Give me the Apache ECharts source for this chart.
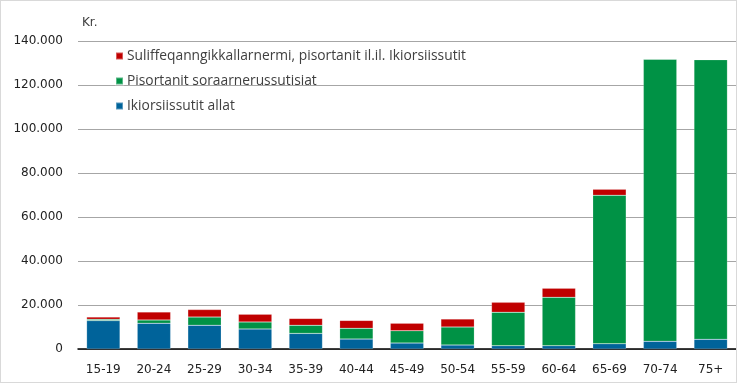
<!DOCTYPE html>
<html>
<head>
<meta charset="utf-8">
<script src="https://cdn.jsdelivr.net/npm/echarts@6/dist/echarts.min.js"></script>
<style>
html,body{margin:0;padding:0;background:#fff;}
#c{position:absolute;left:0;top:0;width:735px;height:381px;border:1px solid #d9d9d9;}
</style>
</head>
<body>
<div id="c"></div>
<script>
const categories = ['15-19','20-24','25-29','30-34','35-39','40-44','45-49','50-54','55-59','60-64','65-69','70-74','75+'];
const seriesNames = ['Ikiorsiissutit allat','Pisortanit soraarnerussutisiat','Suliffeqanngikkallarnermi, pisortanit il.il. Ikiorsiissutit'];
const blueValues  = [12900, 11700, 10800, 9100, 7100, 4500, 2700, 1800, 1500, 1500, 2400, 3500, 4400];
const greenValues = [600, 1500, 3700, 3200, 3700, 4900, 5600, 8200, 15200, 22000, 67500, 128200, 127100];
const redValues   = [1000, 3600, 3400, 3500, 3100, 3600, 3400, 3600, 4500, 4100, 2700, 200, 200];
const yTicks = [0, 20000, 40000, 60000, 80000, 100000, 120000, 140000];

const colors = ['#00639A', '#009245', '#C00000'];
const font = '"Open Sans", "Noto Sans", sans-serif';
const axisFont = '"DejaVu Sans", sans-serif';
const fmt = v => String(v).replace(/\B(?=(\d{3})+(?!\d))/g, '.');

const chart = echarts.init(document.getElementById('c'), null, {renderer: 'canvas'});
function mkSeries(i, data) {
  return {
    name: seriesNames[i], type: 'bar', stack: 'a', data: data, barWidth: '66%',
    itemStyle: {color: colors[i], borderColor: 'rgba(255,255,255,0.35)', borderWidth: 0.5},
    emphasis: {disabled: true}
  };
}
const legendTops = [43, 68, 93];
const legendOrder = [2, 1, 0];
chart.setOption({
  animation: false,
  textStyle: {fontFamily: font},
  grid: {left: 77, right: 0, top: 40, bottom: 33},
  legend: legendOrder.map((si, k) => ({
    data: [seriesNames[si]], left: 109, top: legendTops[k], orient: 'vertical',
    icon: 'rect', itemWidth: 7, itemHeight: 7, itemGap: 4,
    selectedMode: false,
    textStyle: {fontFamily: font, fontSize: 13.8, color: '#404040', padding: [0, 0, 0, -1]}
  })),
  xAxis: {
    type: 'category', data: categories,
    axisLine: {lineStyle: {color: '#000', width: 1.5}},
    axisTick: {show: false},
    axisLabel: {fontFamily: axisFont, fontSize: 12, color: '#222', margin: 15}
  },
  yAxis: {
    type: 'value', min: 0, max: 140000, interval: 20000,
    name: 'Kr.', nameLocation: 'end', nameGap: 12,
    nameTextStyle: {fontFamily: axisFont, fontSize: 12, color: '#404040', align: 'left', padding: [0, 0, 0, 4]},
    axisLine: {show: false}, axisTick: {show: false},
    splitLine: {lineStyle: {color: '#a6a6a6', width: 1}},
    axisLabel: {fontFamily: axisFont, fontSize: 12, color: '#222', margin: 15,
      formatter: v => yTicks.includes(v) ? fmt(v) : ''}
  },
  series: [mkSeries(0, blueValues), mkSeries(1, greenValues), mkSeries(2, redValues)]
});
</script>
</body>
</html>
